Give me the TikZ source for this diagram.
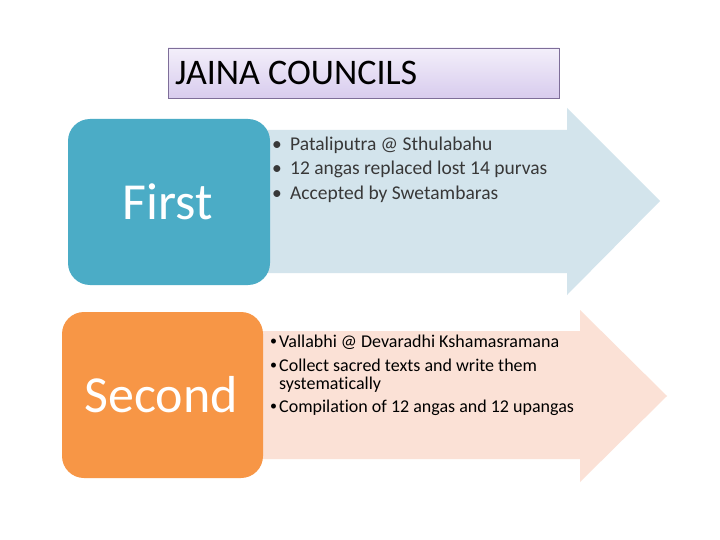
\documentclass[tikz,border=0pt]{standalone}
\usepackage{fontspec}
\setmainfont{Carlito}[Ligatures=NoCommon]
\usepackage{xcolor}
\usepackage{tikz}
\usetikzlibrary{calc,positioning}

\definecolor{councilblue}{HTML}{4BACC6}
\definecolor{councilorange}{HTML}{F79646}
\definecolor{arrowblue}{HTML}{D3E4EC}
\definecolor{arrowpeach}{HTML}{FBE1D6}
\definecolor{titletop}{HTML}{F3EFFA}
\definecolor{titlebottom}{HTML}{D8CCEE}
\definecolor{titleline}{HTML}{7E6E99}

\newcommand{\smallbul}{\makebox[9pt][l]{\raisebox{1.5pt}{\fontsize{14}{14}\selectfont\textbullet}}}

\tikzset{
  point/.style={inner sep=0pt, anchor=base west},
  bigword/.style={inner sep=0pt, anchor=base, text=white, font=\fontsize{52}{60}\selectfont}
}

\begin{document}
\begin{tikzpicture}[x=1pt,y=-1pt]
          \useasboundingbox (0,0) rectangle (720,540);
          \fill[white] (0,0) rectangle (720,540);

          % title box
          \shade[top color=titletop, bottom color=titlebottom, draw=titleline, thin]
            (168,48) rectangle (559,98);
          \node[point, font=\fontsize{36}{40}\selectfont] (title) at (175,85) {JAINA COUNCILS};

          % arrows
          \fill[arrowblue] (262,130) -- (567,130) -- (567,108) -- (660,201)
            -- (567,295) -- (567,273) -- (262,273) -- cycle;
          \fill[arrowpeach] (258,331) -- (580,331) -- (580,310) -- (667,396)
            -- (580,482) -- (580,459) -- (258,459) -- cycle;

          % rounded boxes
          \fill[councilblue, rounded corners=22pt] (68,119) rectangle (270,285);
          \fill[councilorange, rounded corners=22pt] (62,312) rectangle (263,478);
          \node[bigword] (first) at (168,219) {First};
          \node[bigword] (second) at (161,412) {Second};

          % first council
          \begin{scope}[every node/.style={point, text=black!78, font=\fontsize{19.5}{24}\selectfont}]
            \node (p1) at (272,151) {\makebox[18pt][l]{\textbullet}Pataliputra @ Sthulabahu};
            \node (p2) at (272,175) {\makebox[18pt][l]{\textbullet}12 angas replaced lost 14 purvas};
            \node (p3) at (272,200) {\makebox[18pt][l]{\textbullet}Accepted by Swetambaras};
          \end{scope}

          % second council
          \begin{scope}[every node/.style={point, text=black, font=\fontsize{18}{21}\selectfont}]
            \node (q1) at (270,347) {\smallbul Vallabhi @ Devaradhi Kshamasramana};
            \node (q2) at (270,371) {\smallbul Collect sacred texts and write them};
            \node (q2b) at (279,389) {systematically};
            \node (q3) at (270,412) {\smallbul Compilation of 12 angas and 12 upangas};
          \end{scope}
\end{tikzpicture}
\end{document}
